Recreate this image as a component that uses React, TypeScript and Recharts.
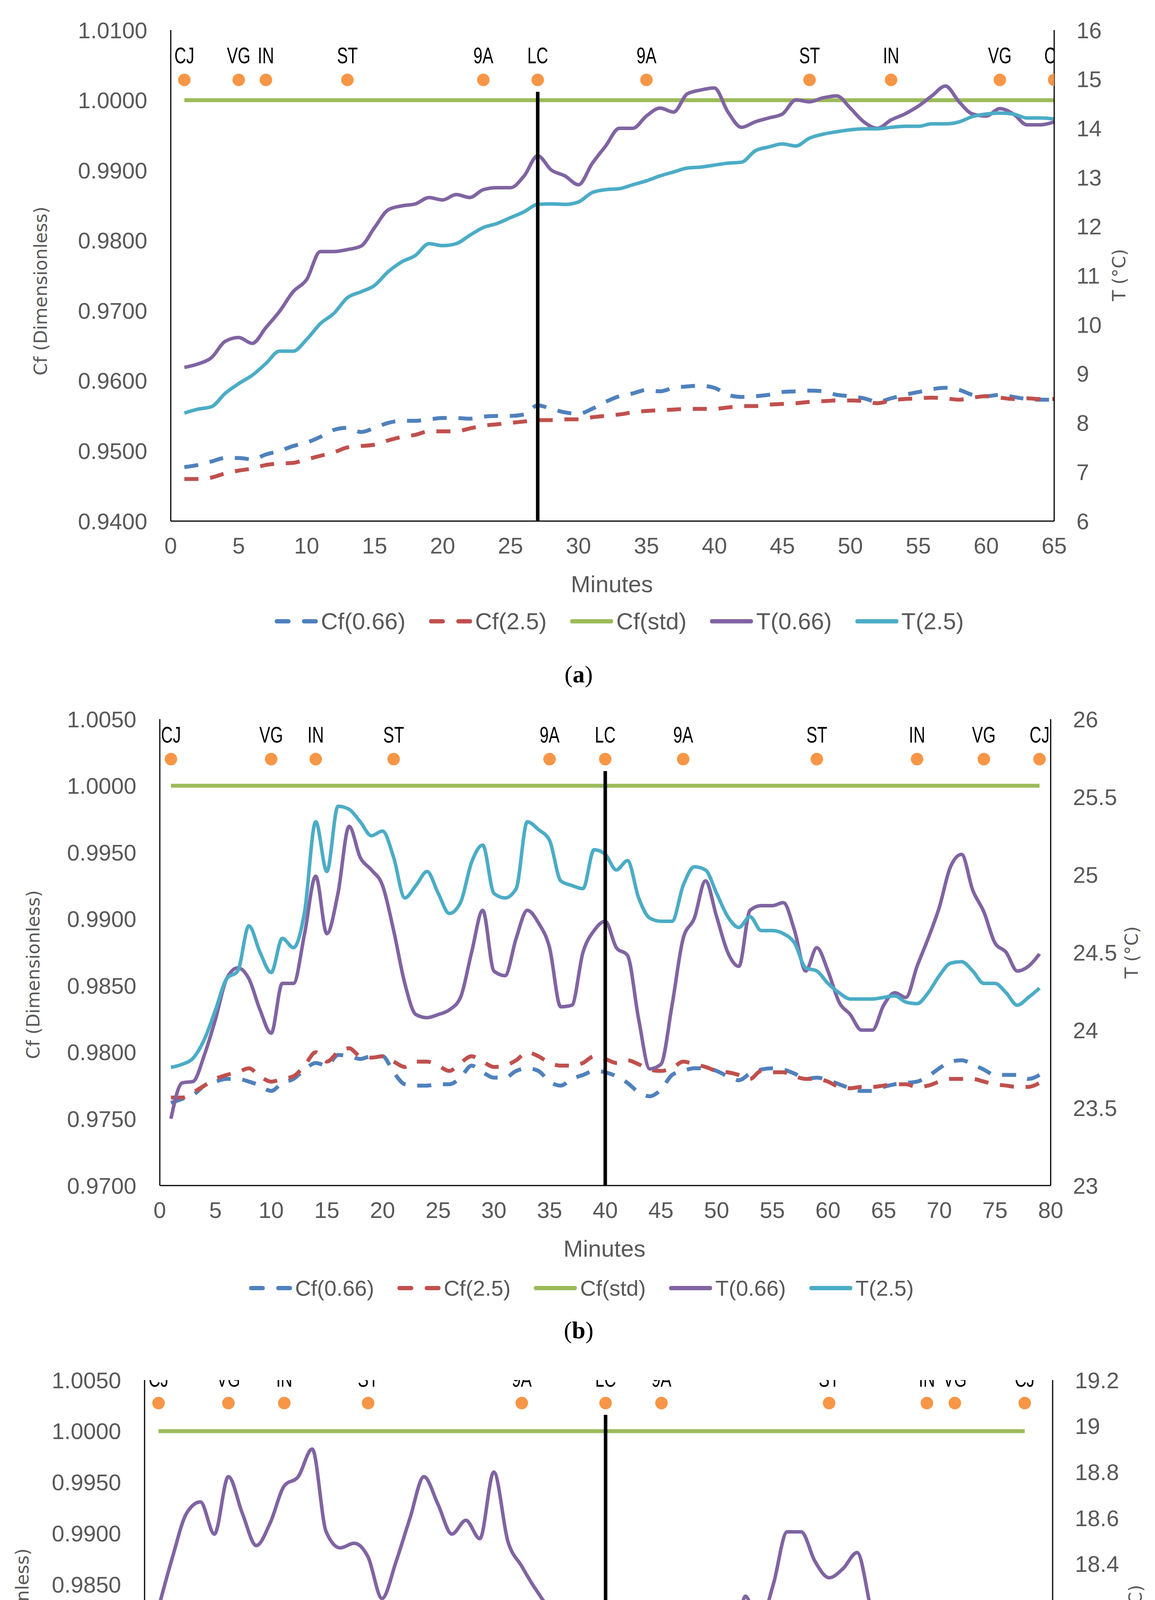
import React from "react";
import { ComposedChart, Line, Scatter, XAxis, YAxis, ReferenceLine } from "recharts";

// ---------- Panel (a) ----------
const aCf066 = [0.9477,0.948,0.9485,0.949,0.949,0.9488,0.9495,0.95,0.9507,0.9512,0.952,0.953,0.9533,0.9527,0.9533,0.954,0.9543,0.9543,0.9545,0.9547,0.9547,0.9546,0.9549,0.955,0.955,0.9552,0.9565,0.956,0.9555,0.9553,0.956,0.957,0.9578,0.9582,0.9587,0.9585,0.959,0.9592,0.9593,0.959,0.958,0.9577,0.9578,0.958,0.9584,0.9585,0.9586,0.9585,0.958,0.9578,0.9575,0.957,0.9575,0.958,0.9584,0.9588,0.959,0.9587,0.958,0.9578,0.958,0.9577,0.9574,0.9573,0.9573];
const aCf25 = [0.946,0.946,0.9462,0.9468,0.9472,0.9475,0.948,0.9482,0.9483,0.9488,0.9493,0.9498,0.9505,0.9507,0.9509,0.9515,0.952,0.9523,0.9528,0.9528,0.9528,0.9532,0.9536,0.9538,0.954,0.9542,0.9544,0.9544,0.9545,0.9545,0.9548,0.955,0.9552,0.9555,0.9557,0.9558,0.9559,0.956,0.956,0.956,0.9562,0.9564,0.9564,0.9566,0.9567,0.9568,0.957,0.9571,0.9572,0.9572,0.9571,0.9568,0.9572,0.9574,0.9575,0.9576,0.9575,0.9573,0.9576,0.9578,0.9576,0.9574,0.9575,0.9574,0.9574];
const aT066 = [9.13,9.2,9.33,9.66,9.74,9.62,9.94,10.27,10.67,10.92,11.49,11.49,11.53,11.6,11.98,12.34,12.42,12.46,12.59,12.54,12.65,12.59,12.75,12.79,12.79,13.03,13.44,13.15,13.03,12.85,13.28,13.64,14.0,14.0,14.25,14.41,14.33,14.7,14.78,14.82,14.33,14.02,14.13,14.21,14.29,14.58,14.54,14.62,14.66,14.41,14.13,14.0,14.17,14.29,14.45,14.66,14.86,14.54,14.29,14.25,14.4,14.29,14.07,14.07,14.13];
const aT25 = [8.2,8.28,8.33,8.6,8.8,8.97,9.21,9.46,9.46,9.7,10.02,10.23,10.55,10.67,10.8,11.08,11.28,11.41,11.65,11.61,11.65,11.82,11.98,12.06,12.18,12.3,12.45,12.46,12.45,12.5,12.69,12.75,12.77,12.85,12.93,13.03,13.11,13.19,13.21,13.25,13.29,13.31,13.54,13.62,13.68,13.64,13.8,13.88,13.93,13.97,13.99,13.99,14.02,14.04,14.04,14.09,14.09,14.13,14.24,14.29,14.31,14.29,14.21,14.21,14.19];
const aMarkMin = [1,5,7,13,23,27,35,47,53,61,65];
const aMarkLbl = ["CJ","VG","IN","ST","9A","LC","9A","ST","IN","VG","CJ"];
const aXTicks = [0,5,10,15,20,25,30,35,40,45,50,55,60,65];
const aCfTicks = [0.94,0.95,0.96,0.97,0.98,0.99,1.0,1.01];
const aTTicks = [6,7,8,9,10,11,12,13,14,15,16];

// ---------- Panel (b) ----------
const bCf066 = [0.9762,0.9765,0.9768,0.9775,0.9778,0.978,0.978,0.9778,0.9775,0.9771,0.9777,0.978,0.9787,0.9792,0.979,0.9798,0.9797,0.9795,0.9797,0.9797,0.9785,0.9776,0.9775,0.9775,0.9776,0.9776,0.9781,0.979,0.9785,0.9781,0.9781,0.9786,0.9788,0.9786,0.9778,0.9775,0.978,0.9783,0.9786,0.9785,0.9782,0.9777,0.977,0.9767,0.9772,0.9783,0.9786,0.9788,0.9788,0.9786,0.9782,0.9779,0.9784,0.9787,0.9788,0.9787,0.9784,0.978,0.9781,0.9779,0.9776,0.9773,0.9771,0.9771,0.9774,0.9776,0.9777,0.9778,0.9782,0.9788,0.9793,0.9794,0.9791,0.9787,0.9783,0.9783,0.9783,0.978,0.9783];
const bCf25 = [0.9766,0.9766,0.977,0.9775,0.978,0.9783,0.9785,0.9788,0.9782,0.9778,0.978,0.9782,0.979,0.98,0.9793,0.98,0.9803,0.9797,0.9796,0.9797,0.9793,0.9789,0.9793,0.9793,0.979,0.9786,0.9792,0.9797,0.9793,0.9789,0.979,0.9794,0.98,0.9797,0.9792,0.979,0.979,0.9792,0.9797,0.9795,0.9792,0.9794,0.9791,0.9787,0.9786,0.9788,0.9793,0.9791,0.9789,0.9786,0.9785,0.9783,0.978,0.9786,0.9785,0.9785,0.9782,0.978,0.978,0.9778,0.9774,0.9773,0.9774,0.9774,0.9775,0.9776,0.9776,0.9774,0.9775,0.9778,0.978,0.978,0.978,0.9778,0.9776,0.9775,0.9774,0.9774,0.9777];
const bT066 = [23.43,23.66,23.67,23.84,24.07,24.33,24.4,24.33,24.13,23.98,24.3,24.3,24.62,24.99,24.62,24.88,25.31,25.11,25.03,24.93,24.64,24.3,24.1,24.08,24.1,24.13,24.21,24.5,24.77,24.38,24.35,24.59,24.77,24.69,24.53,24.15,24.16,24.5,24.64,24.7,24.53,24.48,24.07,23.75,23.78,24.16,24.59,24.72,24.96,24.73,24.5,24.41,24.77,24.8,24.8,24.82,24.64,24.38,24.53,24.38,24.18,24.1,24.0,24.0,24.16,24.24,24.21,24.41,24.59,24.79,25.05,25.13,24.9,24.76,24.56,24.5,24.38,24.41,24.49];
const bT25 = [23.76,23.78,23.82,23.94,24.13,24.33,24.38,24.67,24.5,24.37,24.59,24.53,24.76,25.34,25.02,25.44,25.42,25.34,25.25,25.28,25.11,24.85,24.93,25.02,24.88,24.75,24.82,25.08,25.19,24.88,24.85,24.91,25.34,25.29,25.22,24.96,24.93,24.91,25.16,25.13,25.03,25.09,24.85,24.72,24.7,24.7,24.93,25.05,25.03,24.88,24.73,24.66,24.73,24.64,24.64,24.62,24.56,24.4,24.38,24.3,24.24,24.2,24.2,24.2,24.21,24.22,24.18,24.17,24.24,24.35,24.43,24.44,24.38,24.3,24.3,24.24,24.16,24.21,24.27];
const bMarkMin = [1,10,14,21,35,40,47,59,68,74,79];
const bMarkLbl = ["CJ","VG","IN","ST","9A","LC","9A","ST","IN","VG","CJ"];
const bXTicks = [0,5,10,15,20,25,30,35,40,45,50,55,60,65,70,75,80];
const bCfTicks = [0.97,0.975,0.98,0.985,0.99,0.995,1.0,1.005];
const bTTicks = [23,23.5,24,24.5,25,25.5,26];

// ---------- Panel (c) ----------
const cCf066 = [0.9662,0.9668,0.9677,0.9672,0.9669,0.9673,0.9672,0.967,0.967,0.967,0.9672,0.9677,0.9676,0.9668,0.9668,0.9668,0.9668,0.967,0.967,0.9672,0.9668,0.9667,0.9667,0.9668,0.9673,0.967,0.9662,0.9662,0.9661,0.9661,0.9655,0.9649,0.9655,0.9651,0.9645,0.9648,0.9652,0.9654,0.9656,0.9652,0.965,0.9655,0.9662,0.9658,0.9664,0.9667,0.9668,0.9662,0.9664,0.9667,0.9668,0.9667,0.9662,0.9658,0.9655,0.9656,0.9658,0.9658,0.9658,0.9654,0.965,0.9649,0.9647];
const cCf25 = [0.9647,0.9647,0.9648,0.9651,0.9649,0.9649,0.965,0.9652,0.9653,0.9653,0.9653,0.9656,0.9659,0.9659,0.9661,0.9662,0.9663,0.9661,0.9659,0.9657,0.9658,0.9658,0.9658,0.9658,0.9658,0.9655,0.9656,0.9655,0.9654,0.9652,0.9648,0.9649,0.965,0.9647,0.9645,0.9645,0.9646,0.9647,0.9647,0.9648,0.9647,0.9651,0.9653,0.9652,0.9654,0.9654,0.9655,0.9655,0.9657,0.9658,0.9659,0.9658,0.9656,0.9655,0.9656,0.9657,0.9658,0.9656,0.9655,0.9653,0.9653,0.9654,0.9648];
const cT066 = [18.21,18.43,18.62,18.67,18.53,18.78,18.62,18.48,18.58,18.74,18.78,18.9,18.54,18.47,18.49,18.43,18.25,18.41,18.6,18.78,18.66,18.53,18.59,18.51,18.8,18.5,18.39,18.29,18.22,18.23,17.75,17.63,17.95,17.7,17.41,17.52,17.66,17.84,17.79,17.75,17.72,17.85,18.26,18.14,18.31,18.54,18.54,18.41,18.34,18.38,18.45,18.2,17.93,17.87,17.73,17.7,17.71,17.83,17.93,17.73,17.45,17.41,17.47];
const cT25 = [17.55,17.56,17.64,17.63,17.69,17.74,17.76,17.77,17.81,17.93,17.99,18.0,18.02,18.03,18.12,18.13,18.06,18.05,18.11,18.1,18.1,18.16,18.17,18.18,18.19,18.07,18.05,18.06,17.98,17.89,17.7,17.7,17.73,17.65,17.51,17.58,17.6,17.61,17.59,17.59,17.63,17.8,17.89,17.84,17.89,17.92,17.92,17.89,17.97,18.04,18.02,17.97,17.91,17.89,17.87,17.86,17.83,17.89,17.89,17.79,17.7,17.67,17.66];
const cMarkMin = [1,6,10,16,27,33,37,49,56,58,63];
const cMarkLbl = ["CJ","VG","IN","ST","9A","LC","9A","ST","IN","VG","CJ"];
const cXTicks = [0,5,10,15,20,25,30,35,40,45,50,55,60,65];
const cCfTicks = [0.96,0.965,0.97,0.975,0.98,0.985,0.99,0.995,1.0,1.005];
const cTTicks = [17.2,17.4,17.6,17.8,18,18.2,18.4,18.6,18.8,19,19.2];

const STD = 1.0;

const C_CF066 = "#4F81BD";
const C_CF25 = "#C0504D";
const C_STD = "#9BBB59";
const C_T066 = "#8064A2";
const C_T25 = "#4BACC6";
const GRAY = "#595959";
const NARROW = "'Liberation Sans Narrow', 'Liberation Sans', Arial, sans-serif";
const WIDE = "'DejaVu Sans', 'Open Sans', sans-serif";

function buildRows(cf066: number[], cf25: number[], t066: number[], t25: number[]) {
  const n = Math.max(cf066.length, cf25.length, t066.length, t25.length);
  const rows: any[] = [];
  for (let i = 0; i < n; i++) {
    rows.push({ m: i + 1, cf066: cf066[i], cf25: cf25[i], std: STD, t066: t066[i], t25: t25[i] });
  }
  return rows;
}

type PanelProps = {
  top: number; height: number;
  plotLeft: number; plotRight: number; plotTop: number; plotBottom: number;
  rows: any[]; xMax: number; xTicks: number[];
  cfDomain: [number, number]; cfTicks: number[];
  tDomain: [number, number]; tTicks: number[];
  markMin: number[]; markLbl: string[]; markY: number;
  lcX: number; lcTop: number;
  tFmt: (v: number) => string;
};

const Marker = (p: any) => (
  <g>
    <circle cx={p.cx} cy={p.cy} r={16} fill="#F79646" />
    <text transform={`translate(${p.cx},${p.cy - 42}) scale(0.72,1)`} textAnchor="middle" fontSize={58} fontFamily="'Liberation Sans', Arial, sans-serif" fill="#000">
      {p.payload.label}
    </text>
  </g>
);

function Panel(p: PanelProps) {
  const W = 2956;
  const yRightW = 220;
  const xAxisH = 90;
  const markers = p.markMin.map((m, i) => ({ m, y: p.markY, label: p.markLbl[i] }));
  const tick = { fontSize: 58, fill: GRAY, fontFamily: NARROW };
  return (
    <div style={{ position: "absolute", left: 0, top: p.top, width: W, height: p.height }}>
      <ComposedChart
        width={W}
        height={p.height}
        data={p.rows}
        margin={{ top: p.plotTop, left: 0, right: W - p.plotRight - yRightW, bottom: p.height - p.plotBottom - xAxisH }}
      >
        <XAxis dataKey="m" type="number" xAxisId="x" domain={[0, p.xMax]} ticks={p.xTicks} allowDataOverflow
          height={xAxisH} tickSize={0} tickMargin={42} tick={tick} axisLine={{ stroke: "#000", strokeWidth: 3 }} interval={0} />
        <YAxis yAxisId="cf" orientation="left" width={p.plotLeft} domain={p.cfDomain} ticks={p.cfTicks} allowDataOverflow
          tickSize={0} tickMargin={60} tick={tick} tickFormatter={(v: number) => v.toFixed(4)} axisLine={{ stroke: "#000", strokeWidth: 3 }} interval={0} />
        <YAxis yAxisId="t" orientation="right" width={yRightW} domain={p.tDomain} ticks={p.tTicks} allowDataOverflow
          tickSize={0} tickMargin={57} tick={{ ...tick, textAnchor: "start" }} tickFormatter={p.tFmt} axisLine={{ stroke: "#000", strokeWidth: 3 }} interval={0} />
        <Line xAxisId="x" yAxisId="cf" dataKey="std" stroke={C_STD} strokeWidth={10} dot={false} isAnimationActive={false} />
        <Line xAxisId="x" yAxisId="cf" type="monotone" dataKey="cf066" stroke={C_CF066} strokeWidth={10} strokeDasharray="36 30" dot={false} isAnimationActive={false} />
        <Line xAxisId="x" yAxisId="cf" type="monotone" dataKey="cf25" stroke={C_CF25} strokeWidth={10} strokeDasharray="36 30" dot={false} isAnimationActive={false} />
        <Line xAxisId="x" yAxisId="t" type="monotone" dataKey="t066" stroke={C_T066} strokeWidth={9} dot={false} isAnimationActive={false} />
        <Line xAxisId="x" yAxisId="t" type="monotone" dataKey="t25" stroke={C_T25} strokeWidth={9} dot={false} isAnimationActive={false} />
        <ReferenceLine xAxisId="x" yAxisId="cf" segment={[{ x: p.lcX, y: p.cfDomain[0] }, { x: p.lcX, y: p.lcTop }]} stroke="#000" strokeWidth={9} ifOverflow="extendDomain" />
        <Scatter xAxisId="x" yAxisId="cf" data={markers} dataKey="y" shape={Marker} isAnimationActive={false} />
      </ComposedChart>
    </div>
  );
}

const LEG = [
  { name: "Cf(0.66)", color: C_CF066, dash: true },
  { name: "Cf(2.5)", color: C_CF25, dash: true },
  { name: "Cf(std)", color: C_STD, dash: false },
  { name: "T(0.66)", color: C_T066, dash: false },
  { name: "T(2.5)", color: C_T25, dash: false },
];

function Legend({ cx, cy, size }: { cx: number; cy: number; size: number }) {
  return (
    <div style={{ position: "absolute", left: cx, top: cy, transform: "translate(-50%, -50%)", display: "flex", alignItems: "center", gap: 60, whiteSpace: "nowrap", fontFamily: NARROW, fontSize: size, color: GRAY }}>
      {LEG.map((l) => (
        <div key={l.name} style={{ display: "flex", alignItems: "center", gap: 8 }}>
          <svg width={110} height={20}>
            <line x1={5} y1={10} x2={105} y2={10} stroke={l.color} strokeWidth={11} strokeLinecap="round" strokeDasharray={l.dash ? "30 40" : undefined} />
          </svg>
          <span>{l.name}</span>
        </div>
      ))}
    </div>
  );
}

function Abs({ x, y, children, style }: any) {
  return <div style={{ position: "absolute", left: x, top: y, transform: "translate(-50%, -50%)", whiteSpace: "nowrap", ...style }}>{children}</div>;
}

function Titles({ lx, ly, rx, ry, mx, my, cap, cy }: any) {
  const ts = { fontFamily: WIDE, fontSize: 46, color: GRAY };
  return (
    <>
      <Abs x={lx} y={ly} style={{ ...ts, transform: "translate(-50%, -50%) rotate(-90deg)" }}>Cf (Dimensionless)</Abs>
      <Abs x={rx} y={ry} style={{ ...ts, transform: "translate(-50%, -50%) rotate(-90deg)" }}>T (°C)</Abs>
      <Abs x={mx} y={my} style={{ fontFamily: NARROW, fontSize: 60, color: GRAY }}>Minutes</Abs>
      <Abs x={1481} y={cy} style={{ fontFamily: "'Liberation Serif', serif", fontSize: 62, color: "#000" }}>(<b>{cap}</b>)</Abs>
    </>
  );
}

export default function App() {
  const aRows = buildRows(aCf066, aCf25, aT066, aT25);
  const bRows = buildRows(bCf066, bCf25, bT066, bT25);
  const cRows = buildRows(cCf066, cCf25, cT066, cT25);
  return (
    <div style={{ position: "relative", width: 2940, height: 5157 }}>
      <div style={{ position: "absolute", left: -8, top: -8, width: 2956, height: 5173, background: "#fff" }}>
        <Panel top={0} height={1450} plotLeft={437} plotRight={2698} plotTop={77} plotBottom={1334}
          rows={aRows} xMax={65} xTicks={aXTicks} cfDomain={[0.94, 1.01]} cfTicks={aCfTicks}
          tDomain={[6, 16]} tTicks={aTTicks} markMin={aMarkMin} markLbl={aMarkLbl} markY={1.0029}
          lcX={27} lcTop={1.0012} tFmt={(v) => String(v)} />
        <Legend cx={1585} cy={1590} size={60} />
        <Titles lx={104} ly={745} rx={2864} ry={704} mx={1566} my={1495} cap="a" cy={1726} />

        <Panel top={1780} height={1370} plotLeft={409} plotRight={2689} plotTop={1841 - 1780} plotBottom={3035 - 1780}
          rows={bRows} xMax={80} xTicks={bXTicks} cfDomain={[0.97, 1.005]} cfTicks={bCfTicks}
          tDomain={[23, 26]} tTicks={bTTicks} markMin={bMarkMin} markLbl={bMarkLbl} markY={1.002}
          lcX={40} lcTop={1.0011} tFmt={(v) => String(v)} />
        <Legend cx={1488} cy={3297} size={56} />
        <Titles lx={85} ly={2495} rx={2896} ry={2438} mx={1547} my={3196} cap="b" cy={3405} />

        <Panel top={3470} height={1360} plotLeft={370} plotRight={2694} plotTop={3533 - 3470} plotBottom={4710 - 3470}
          rows={cRows} xMax={65} xTicks={cXTicks} cfDomain={[0.96, 1.005]} cfTicks={cCfTicks}
          tDomain={[17.2, 19.2]} tTicks={cTTicks} markMin={cMarkMin} markLbl={cMarkLbl} markY={1.00275}
          lcX={33} lcTop={1.0016} tFmt={(v) => String(Math.round(v * 10) / 10)} />
        <Legend cx={1488} cy={5004} size={56} />
        <Titles lx={57} ly={4180} rx={2906} ry={4124} mx={1532} my={4871} cap="c" cy={5119} />
      </div>
    </div>
  );
}
